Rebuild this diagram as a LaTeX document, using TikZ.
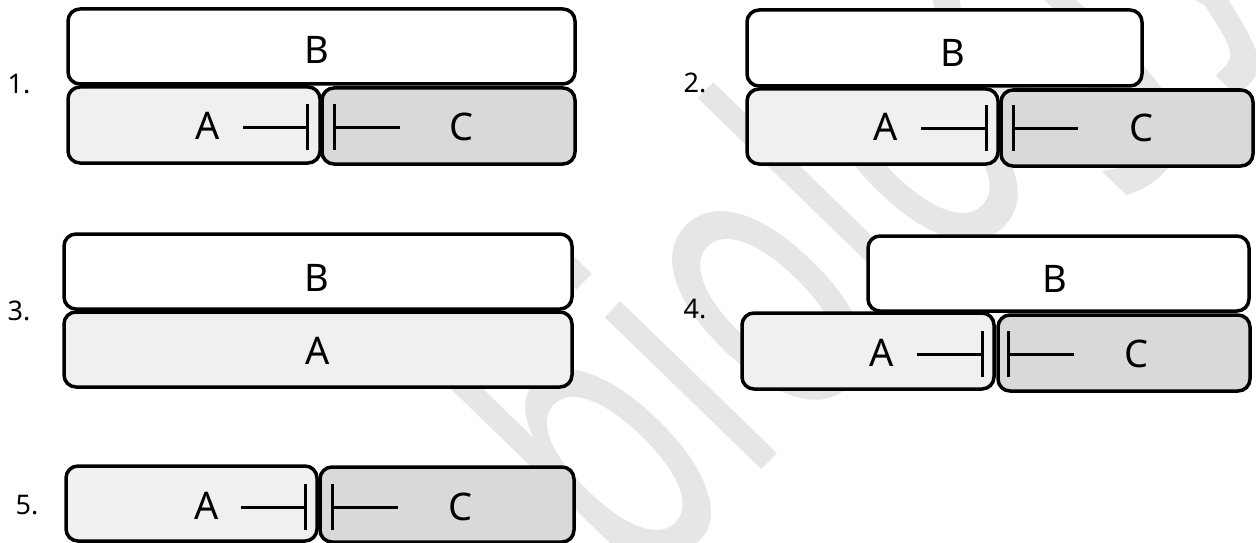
\documentclass[tikz,border=0pt]{standalone}
\usepackage{fontspec}
\setmainfont{Noto Sans}
\newfontfamily\wmfont{DejaVu Sans}
\usetikzlibrary{arrows.meta}
\definecolor{afill}{HTML}{F0F0F0}
\definecolor{cfill}{HTML}{D9D9D9}
\definecolor{wm}{HTML}{E6E6E6}
\tikzset{
  box/.style={draw=black, line width=3.5pt, rounded corners=12pt, inner sep=0pt, outer sep=0pt},
  bbox/.style={box, fill=white},
  abox/.style={box, fill=afill},
  cbox/.style={box, fill=cfill},
  lbl/.style={font=\fontsize{38}{40}\selectfont, inner sep=0pt},
  num/.style={font=\fontsize{27}{30}\selectfont, inner sep=0pt},
  inh/.style={line width=3pt, -{Bar[width=46pt, line width=3pt]}},
}
\begin{document}
\begin{tikzpicture}[x=1pt, y=-1pt]
\useasboundingbox (0,0) rectangle (1256,543);
\fill[white] (0,0) rectangle (1256,543);
% watermark
\begin{scope}[shift={(635,600)}]
  \node[anchor=base west, rotate=45.9, xscale=0.625, transform shape, inner sep=0pt, text=wm,
        font=\wmfont\fontsize{399}{400}\selectfont] (wmark) at (0,0) {biology};
\end{scope}
% ---------- panel 1
\node[num] (n1) at (19,84) {1.};
\node[bbox, minimum width=507pt, minimum height=75pt] (B1) at (321.5,46.5) {};
\node[abox, minimum width=252pt, minimum height=76pt] (A1) at (194,125) {};
\node[cbox, minimum width=253pt, minimum height=76pt] (C1) at (448.5,126) {};
\node[lbl] (tB1) at (317,50) {B};
\node[lbl] (tA1) at (208,126) {A};
\node[lbl] (tC1) at (462,127) {C};
\coordinate (a1s) at (243,127); \coordinate (a1e) at (309,127);
\coordinate (c1s) at (400,127); \coordinate (c1e) at (333,127);
\draw[inh] (a1s) -- (a1e);
\draw[inh] (c1s) -- (c1e);
% ---------- panel 2
\node[num] (n2) at (695,83) {2.};
\node[bbox, minimum width=395pt, minimum height=76pt] (B2) at (944.5,48) {};
\node[abox, minimum width=251pt, minimum height=75pt] (A2) at (872.5,126.5) {};
\node[cbox, minimum width=252pt, minimum height=76pt] (C2) at (1127,128) {};
\node[lbl] (tB2) at (953,53) {B};
\node[lbl] (tA2) at (886,127) {A};
\node[lbl] (tC2) at (1141,128) {C};
\coordinate (a2s) at (921,128); \coordinate (a2e) at (988,128);
\coordinate (c2s) at (1078,128); \coordinate (c2e) at (1012,128);
\draw[inh] (a2s) -- (a2e);
\draw[inh] (c2s) -- (c2e);
% ---------- panel 3
\node[num] (n3) at (19,311) {3.};
\node[bbox, minimum width=508pt, minimum height=75pt] (B3) at (318,271.5) {};
\node[abox, minimum width=508pt, minimum height=75pt] (A3) at (318,349.5) {};
\node[lbl] (tB3) at (317,278) {B};
\node[lbl] (tA3) at (318,351) {A};
% ---------- panel 4
\node[num] (n4) at (695,309) {4.};
\node[bbox, minimum width=381pt, minimum height=75pt] (B4) at (1058.5,273.5) {};
\node[abox, minimum width=252pt, minimum height=76pt] (A4) at (868,351) {};
\node[cbox, minimum width=252pt, minimum height=76pt] (C4) at (1124,353) {};
\node[lbl] (tB4) at (1055,279) {B};
\node[lbl] (tA4) at (882,353) {A};
\node[lbl] (tC4) at (1136,354) {C};
\coordinate (a4s) at (917,354); \coordinate (a4e) at (984,354);
\coordinate (c4s) at (1074,354); \coordinate (c4e) at (1007,354);
\draw[inh] (a4s) -- (a4e);
\draw[inh] (c4s) -- (c4e);
% ---------- panel 5
\node[num] (n5) at (27,505) {5.};
\node[abox, minimum width=251pt, minimum height=75pt] (A5) at (191.5,503.5) {};
\node[cbox, minimum width=254pt, minimum height=75pt] (C5) at (447,504.5) {};
\node[lbl] (tA5) at (207,506) {A};
\node[lbl] (tC5) at (461,507) {C};
\coordinate (a5s) at (241,507); \coordinate (a5e) at (307,507);
\coordinate (c5s) at (398,507); \coordinate (c5e) at (331,507);
\draw[inh] (a5s) -- (a5e);
\draw[inh] (c5s) -- (c5e);
\end{tikzpicture}
\end{document}
